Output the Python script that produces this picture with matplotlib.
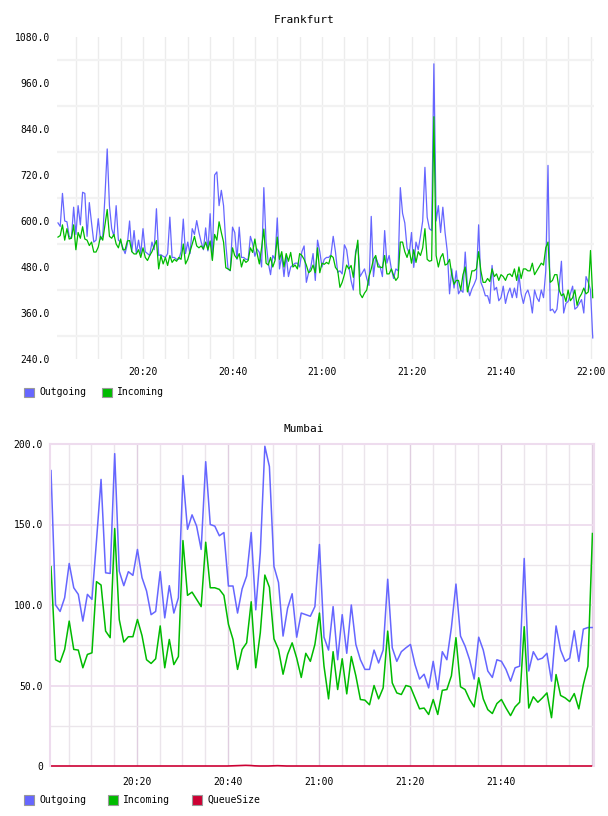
import matplotlib
matplotlib.use("Agg")
import matplotlib.pyplot as plt
from matplotlib.patches import Rectangle

# Frankfurt: one sample every 30 s starting 20:01
fra_out = [
    595, 586, 672, 600, 598, 560, 555, 636, 565, 640,
    590, 675, 672, 560, 648, 595, 545, 550, 606, 552,
    560, 665, 788, 640, 580, 560, 640, 550, 545, 530,
    515, 540, 600, 520, 575, 515, 550, 515, 580, 520,
    515, 510, 545, 525, 632, 510, 512, 508, 505, 515,
    610, 505, 505, 500, 500, 520, 605, 515, 545, 515,
    580, 565, 601, 570, 545, 525, 582, 522, 619, 500,
    720, 728, 640, 680, 640, 540, 475, 470, 584, 570,
    500, 584, 505, 505, 500, 500, 560, 540, 508, 527,
    518, 480, 687, 545, 490, 460, 510, 500, 608, 475,
    510, 455, 510, 455, 480, 485, 490, 490, 480, 520,
    535, 440, 465, 480, 515, 445, 550, 520, 480, 500,
    505, 505, 512, 560, 520, 466, 470, 462, 538, 525,
    482, 444, 420, 520, 540, 455, 465, 475, 450, 432,
    612, 455, 505, 490, 480, 455, 575, 490, 510, 475,
    450, 475, 470, 687, 620, 595, 530, 515, 570, 479,
    545, 525, 560, 600, 740, 610, 580, 575, 1010, 600,
    640, 570, 636, 570, 520, 410, 475, 425, 470, 410,
    420, 414, 519, 430, 405, 423, 435, 450, 590, 440,
    425, 405, 405, 385, 484, 420, 427, 392, 400, 430,
    385, 410, 425, 400, 425, 400, 460, 410, 385, 410,
    420, 400, 360, 420, 400, 390, 420, 400, 470, 745,
    366, 370, 360, 370, 430, 495, 360, 385, 390, 410,
    430, 370, 375, 385, 395, 360, 455, 440, 420, 295,
]
fra_in = [
    558, 562, 590, 550, 580, 553, 555, 590, 525, 570,
    555, 585, 553, 550, 536, 545, 519, 519, 532, 560,
    550, 590, 630, 560, 555, 565, 540, 530, 553, 525,
    525, 548, 549, 520, 514, 514, 525, 505, 530, 505,
    497, 510, 520, 535, 549, 475, 510, 488, 505, 484,
    510, 492, 500, 495, 505, 500, 540, 488, 500, 520,
    540, 560, 535, 530, 535, 527, 545, 525, 548, 497,
    565, 550, 598, 570, 545, 478, 475, 471, 530, 510,
    502, 515, 480, 500, 492, 497, 530, 518, 553, 515,
    488, 530, 579, 490, 485, 505, 480, 497, 558, 500,
    520, 480, 515, 495, 518, 480, 485, 475, 515, 510,
    500, 485, 465, 470, 485, 465, 530, 465, 490, 487,
    492, 488, 510, 505, 479, 471, 427, 440, 460, 485,
    475, 484, 453, 512, 550, 410, 400, 412, 420, 455,
    475, 500, 510, 480, 480, 478, 510, 462, 462, 475,
    458, 445, 453, 545, 545, 520, 505, 525, 490, 525,
    492, 520, 510, 530, 580, 500, 495, 497, 872, 510,
    480, 505, 515, 485, 488, 500, 460, 435, 445, 445,
    420, 460, 480, 415, 440, 470, 470, 475, 520, 470,
    440, 440, 450, 442, 475, 455, 462, 445, 460, 455,
    445, 460, 462, 455, 475, 445, 480, 450, 475, 475,
    470, 470, 490, 460, 470, 480, 490, 485, 530, 545,
    440, 445, 460, 460, 420, 405, 410, 390, 420, 392,
    400, 420, 380, 400, 410, 425, 410, 415, 523, 400,
]
fra_start, fra_step = 1.0, 0.5

# Mumbai: one sample per minute starting 20:01
mum_out = [
    183.5, 100, 96, 104.5, 125.8, 110.7, 106.6, 90, 106.6, 103.5,
    140, 178, 120, 119.6, 194, 121, 112, 120.7, 118.4, 134.5,
    117, 108.7, 94, 96, 120.7, 92, 112, 95, 104.5, 180.4,
    147, 156, 149, 134.5, 189, 150, 149, 143, 145, 111.8,
    111.8, 95, 110, 118, 145, 97, 132.5, 198.6, 186, 124,
    114, 80.7, 98, 107, 80, 95, 94, 93, 99, 137.6,
    80, 72, 99, 66, 94, 70, 100, 75.5, 66, 60,
    60, 72, 64, 72, 116, 73.4, 65, 71, 73.4, 75.5,
    63, 54, 57, 48.5, 65, 47.5, 71, 66, 86, 113,
    80.7, 74.5, 66, 54, 80, 72, 59, 55, 66, 65,
    60, 52.7, 61, 62, 128.9, 59, 71, 66, 67, 70,
    52.7, 87, 72, 65, 67, 84, 65, 85, 86, 86,
]
mum_in = [
    123.8, 66, 64.5, 72.4, 90, 72.4, 72, 61, 69.3, 70.3,
    114.5, 112.4, 83.8, 79.7, 147.5, 91, 77, 80.3, 80.3, 91,
    81, 66, 63.7, 66.6, 87, 61, 78.6, 63, 68, 140,
    106, 108, 103.5, 99, 139, 110.7, 110.7, 109.7, 106, 88,
    78.6, 60, 72.4, 76.5, 102, 61, 82.8, 118.6, 111, 79,
    72.4, 57, 69.3, 76.5, 67, 55, 70, 65, 75.5, 95,
    62, 41.7, 71, 47.5, 66.6, 44.8, 68, 56, 41.3, 40.9,
    38, 50, 41.7, 48.5, 83.8, 51.6, 45.4, 44.4, 50, 49.2,
    42.3, 35.5, 36, 32, 41.3, 32, 47, 47.5, 56, 79.7,
    49.2, 47.5, 41.3, 36.7, 54.8, 41.7, 35, 32.6, 38.8, 41.3,
    36, 31.3, 36.7, 39.6, 86.5, 36, 43, 39.6, 42.3, 45.4,
    30, 56.8, 43.8, 42.3, 40, 45, 35.5, 50.6, 62, 144.4,
]
mum_queue = [
    0, 0, 0, 0, 0, 0, 0, 0, 0, 0,
    0, 0, 0, 0, 0, 0, 0, 0, 0, 0,
    0, 0, 0, 0, 0, 0, 0, 0, 0, 0,
    0, 0, 0, 0, 0, 0, 0, 0, 0, 0,
    0.1, 0.2, 0.3, 0.4, 0.3, 0.1, 0, 0, 0, 0.1,
    0.2, 0.1, 0, 0, 0, 0, 0, 0, 0, 0,
    0, 0, 0, 0, 0, 0, 0, 0, 0, 0,
    0, 0, 0, 0, 0, 0, 0, 0, 0, 0,
    0, 0, 0, 0, 0, 0, 0, 0, 0, 0,
    0, 0, 0, 0, 0, 0, 0, 0, 0, 0,
    0, 0, 0, 0, 0, 0, 0, 0, 0, 0,
    0, 0, 0, 0, 0, 0, 0, 0, 0, 0,
]
mum_start, mum_step = 1.1, 1.0

time_ticks = [20, 40, 60, 80, 100, 120]
time_labels = ["20:20", "20:40", "21:00", "21:20", "21:40", "22:00"]
fra_yticks = [240, 360, 480, 600, 720, 840, 960, 1080]
mum_yticks = [0, 50, 100, 150, 200]
mum_ylabels = ["0", "50.0", "100.0", "150.0", "200.0"]

BLUE = "#6666ff"
GREEN = "#00bb00"
RED = "#cc0033"
MONO = ["DejaVu Sans Mono"]

W, H = 608, 816
fig = plt.figure(figsize=(W / 100, H / 100), dpi=100)


def box(l, t, r, b):
    return [l / W, 1 - b / H, (r - l) / W, (b - t) / H]


def times(start, step, n):
    return [start + step * k for k in range(n)]


def legend(y, items):
    for x, txt, col in items:
        fig.add_artist(Rectangle((x / W, 1 - (y + 5) / H), 10 / W, 10 / H,
                                 transform=fig.transFigure, facecolor=col,
                                 edgecolor="#999999", linewidth=0.8))
        fig.text((x + 15) / W, 1 - y / H, txt, fontsize=7, family=MONO,
                 va="center", ha="left")


# ---------- Frankfurt ----------
ax1 = fig.add_axes(box(57, 37, 594, 359))
ax1.set_xlim(0.78, 120.78)
ax1.set_ylim(240, 1080)
for s in ax1.spines.values():
    s.set_visible(False)
for m in range(5, 121, 5):
    ax1.axvline(m, color="#ececec", lw=1.0, zorder=0)
for v in range(300, 1080, 120):
    ax1.axhline(v, color="#f2f2f2", lw=1.6, zorder=0)
ax1.plot(times(fra_start, fra_step, len(fra_out)), fra_out, color=BLUE, lw=0.9)
ax1.plot(times(fra_start, fra_step, len(fra_in)), fra_in, color=GREEN, lw=0.9)
ax1.set_xticks(time_ticks)
ax1.set_xticklabels(time_labels)
ax1.set_yticks(fra_yticks)
ax1.set_yticklabels(["%.1f" % v for v in fra_yticks])
ax1.tick_params(length=0, labelsize=7)
ax1.tick_params(axis="y", pad=5)
ax1.tick_params(axis="x", pad=6)
for lab in ax1.get_xticklabels() + ax1.get_yticklabels():
    lab.set_family(MONO)
fig.text(0.5, 1 - 20 / H, "Frankfurt", ha="center", va="center",
         fontsize=8, family=MONO)
legend(392.5, [(24, "Outgoing", BLUE), (102, "Incoming", GREEN)])

# ---------- Mumbai ----------
ax2 = fig.add_axes(box(50, 444, 594, 766))
ax2.set_xlim(0.88, 120.44)
ax2.set_ylim(0, 200)
for side in ["top", "right", "left"]:
    ax2.spines[side].set_color("#eedcee")
    ax2.spines[side].set_linewidth(1.5)
ax2.spines["bottom"].set_visible(False)
for m in range(5, 121, 5):
    col = "#e0cee0" if m % 20 == 0 else "#ebe5eb"
    ax2.axvline(m, color=col, lw=1.0, zorder=0)
for v in range(25, 200, 25):
    col = "#eedcee" if v % 50 == 0 else "#ebe6eb"
    ax2.axhline(v, color=col, lw=1.3 if v % 50 == 0 else 1.0, zorder=0)
t2 = times(mum_start, mum_step, len(mum_out))
ax2.plot(t2, mum_out, color=BLUE, lw=1.1)
ax2.plot(t2, mum_in, color=GREEN, lw=1.1)
ax2.plot(times(0.88, mum_step, len(mum_queue)), mum_queue, color=RED, lw=1.2,
         clip_on=False)
ax2.set_xticks(time_ticks[:-1])
ax2.set_xticklabels(time_labels[:-1])
ax2.set_yticks(mum_yticks)
ax2.set_yticklabels(mum_ylabels)
ax2.tick_params(length=0, labelsize=7)
ax2.tick_params(axis="y", pad=5)
ax2.tick_params(axis="x", pad=8)
for lab in ax2.get_xticklabels() + ax2.get_yticklabels():
    lab.set_family(MONO)
fig.text(0.5, 1 - 429 / H, "Mumbai", ha="center", va="center",
         fontsize=8, family=MONO)
legend(800, [(24, "Outgoing", BLUE), (108, "Incoming", GREEN),
             (192, "QueueSize", RED)])

fig.savefig("out.png", dpi=100)
